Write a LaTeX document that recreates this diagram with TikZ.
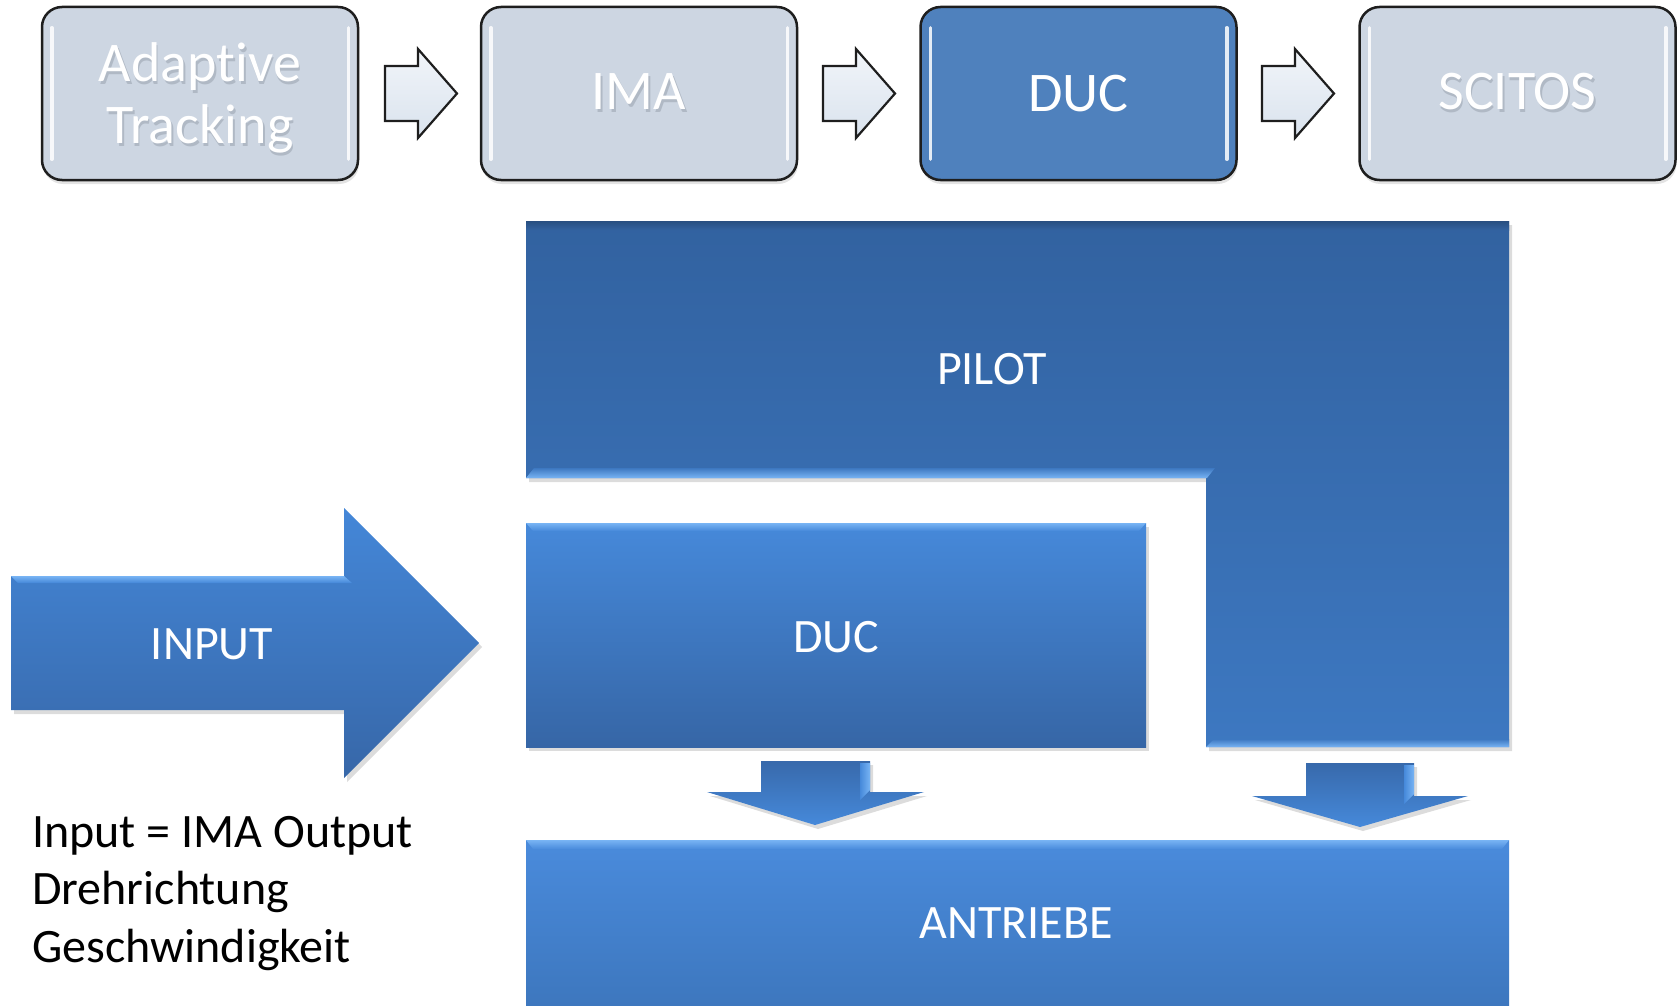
\documentclass[tikz,border=0pt]{standalone}
\usepackage{fontspec}
\setmainfont{Carlito}[Ligatures=NoCommon]
\usetikzlibrary{shadows,calc}
\definecolor{lightbox}{HTML}{CDD6E2}
\definecolor{boxline}{HTML}{1E1E1E}
\definecolor{ducblue}{HTML}{4F81BD}
\definecolor{arrowlight}{HTML}{DCE5F0}
\definecolor{txtshadow}{HTML}{B0B9C5}
\definecolor{pilotTop}{HTML}{3262A0}
\definecolor{pilotBot}{HTML}{3D78C1}
\definecolor{ducTop}{HTML}{4689DA}
\definecolor{ducBot}{HTML}{3666A6}
\definecolor{antTop}{HTML}{4A8BDC}
\definecolor{antBot}{HTML}{3D77BE}
\definecolor{inTop}{HTML}{4487D8}
\definecolor{inBot}{HTML}{3767A8}
\definecolor{bevel}{HTML}{78B4F4}
\newcommand\shadowtxt[1]{\makebox[0pt][l]{\hspace{1.5pt}\raisebox{-3pt}{\textcolor{txtshadow}{#1}}}#1}
\tikzset{
  topbox/.style={draw=boxline, line width=2.5pt, rounded corners=20pt, fill=lightbox,
    minimum width=316pt, minimum height=173pt, inner sep=0pt, text=white, align=center,
    font=\fontsize{56}{62}\selectfont,
    drop shadow={opacity=0.22, shadow xshift=1pt, shadow yshift=-4pt}},
  smallarrow/.style={draw=boxline, line width=2.2pt, line join=miter, top color=white!60!arrowlight, bottom color=arrowlight!85!lightbox},
  bigshape/.style={drop shadow={opacity=0.28, shadow xshift=3pt, shadow yshift=-4pt}},
  bigtext/.style={text=white, font=\fontsize{48}{56}\selectfont, inner sep=0pt, anchor=base},
  downarrow/.style={top color=ducBot!90!ducTop, bottom color=ducTop, bigshape}
}
\begin{document}
\begin{tikzpicture}[x=1pt,y=-1pt]
\useasboundingbox (0,0) rectangle (1679,1006);

% ---------- top process row ----------
\node[topbox, text depth=0pt] (b1) at (200,93.5) {\shadowtxt{Adaptive}\\\shadowtxt{Tracking}};
\node[topbox] (b2) at (639,93.5) {\shadowtxt{IMA}};
\node[topbox, fill=ducblue] (b3) at (1078.5,93.5) {DUC};
\node[topbox] (b4) at (1517.5,93.5) {\shadowtxt{SCITOS}};
\foreach \b in {b1,b2,b3,b4}{
  \draw[white, line width=3.5pt, line cap=round, opacity=0.85]
    ($(\b.north west)+(11,22)$) -- ($(\b.south west)+(11,-22)$);
  \draw[white, line width=3.5pt, line cap=round, opacity=0.85]
    ($(\b.north east)+(-11,22)$) -- ($(\b.south east)+(-11,-22)$);
}
\foreach \x in {385,823,1262}{
  \draw[smallarrow] (\x,66) -- (\x+33,66) -- (\x+33,49) -- (\x+72,93.5)
    -- (\x+33,138) -- (\x+33,121) -- (\x,121) -- cycle;
}

% ---------- PILOT (L shape) ----------
\path[bigshape, top color=pilotTop, bottom color=pilotBot]
  (526,221) -- (1509,221) -- (1509,747) -- (1206,747) -- (1206,478) -- (526,478) -- cycle;
\shade[top color=pilotTop!80!black, bottom color=pilotTop] (526,221) rectangle (1509,230);
\shade[top color=pilotBot, bottom color=bevel] (534,468) -- (1215,468) -- (1207,478) -- (526,478) -- cycle;
\shade[top color=pilotBot, bottom color=bevel] (1214,739) -- (1509,739) -- (1509,747) -- (1206,747) -- cycle;
\node[bigtext] (pilot) at (992,384) {PILOT};

% ---------- DUC ----------
\path[bigshape, top color=ducTop, bottom color=ducBot] (526,523) rectangle (1146,747);
\shade[top color=bevel, bottom color=ducTop] (526,523) -- (1146,523) -- (1139,531) -- (533,531) -- cycle;
\node[bigtext] (duc) at (836,652) {DUC};

% ---------- INPUT arrow ----------
\path[bigshape, top color=inTop, bottom color=inBot]
  (11,576) -- (344,576) -- (344,508) -- (479,643) -- (344,778) -- (344,710) -- (11,710) -- cycle;
\shade[top color=bevel, bottom color=inTop] (11,576) -- (344,576) -- (352,583) -- (18,583) -- cycle;
\node[bigtext] (input) at (212,659) {INPUT};

% ---------- down arrows ----------
\path[downarrow] (761,761) -- (870,761) -- (870,792) -- (924,792) -- (815,825) -- (707,792) -- (761,792) -- cycle;
\shade[left color=ducTop, right color=bevel] (860,763) -- (870,763) -- (870,790) -- (860,800) -- cycle;
\path[downarrow] (1306,763) -- (1414,763) -- (1414,796) -- (1468,796) -- (1360,827) -- (1252,796) -- (1306,796) -- cycle;
\shade[left color=ducTop, right color=bevel] (1404,765) -- (1414,765) -- (1414,794) -- (1404,804) -- cycle;

% ---------- ANTRIEBE ----------
\path[top color=antTop, bottom color=antBot] (526,840) rectangle (1509,1006);
\shade[top color=bevel, bottom color=antTop] (526,840) -- (1509,840) -- (1502,849) -- (533,849) -- cycle;
\node[bigtext] (antriebe) at (1016,938) {ANTRIEBE};

% ---------- note ----------
\node[anchor=north west, inner sep=0pt, align=left, font=\fontsize{48}{57.5}\selectfont] (note)
  at (32,816) {Input = IMA Output\\Drehrichtung\\Geschwindigkeit};
\end{tikzpicture}
\end{document}
